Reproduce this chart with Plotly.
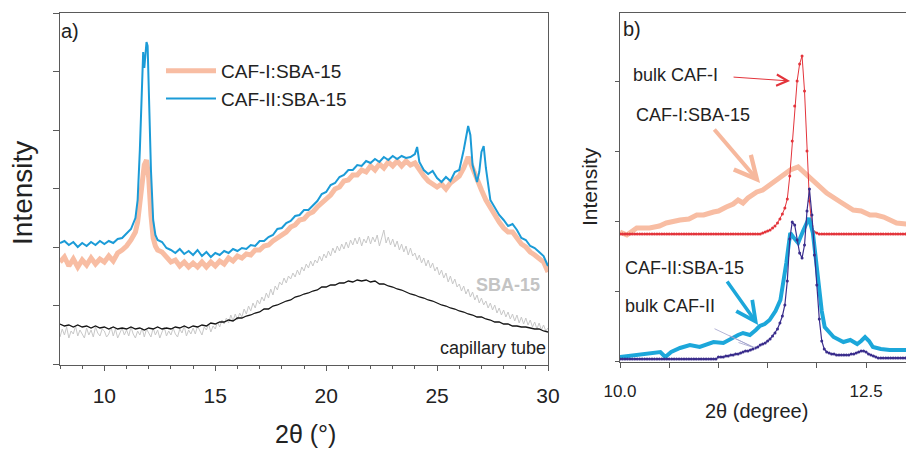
import numpy as np
import plotly.graph_objects as go

W, H = 906, 449

# ---------------- Panel a data (intensity, a.u.) ----------------
caf1_sba15_a = [(8.0,102),(8.2,107),(8.4,98),(8.6,105),(8.8,97),(9.0,104),(9.2,99),(9.4,106),(9.6,100),(9.8,105),
    (10.0,102),(10.2,108),(10.4,103),(10.6,111),(10.8,114),(11.0,118),(11.2,124),(11.4,132),(11.5,142),(11.6,159),
    (11.7,182),(11.8,199),(11.9,204),(12.0,186),(12.1,149),(12.2,126),(12.3,118),(12.4,114),(12.6,112),(12.8,106),
    (13.0,102),(13.2,104),(13.4,98),(13.6,102),(13.8,97),(14.0,101),(14.2,97),(14.4,102),(14.6,97),(14.8,102),
    (15.0,98),(15.2,103),(15.4,100),(15.6,106),(15.8,103),(16.0,108),(16.2,106),(16.4,110),(16.6,109),(16.8,114),
    (17.0,114),(17.2,118),(17.4,119),(17.6,123),(17.8,126),(18.0,130),(18.2,132),(18.4,137),(18.6,139),(18.8,144),
    (19.0,145),(19.2,150),(19.4,152),(19.6,157),(19.8,161),(20.0,166),(20.2,169),(20.4,175),(20.6,177),(20.8,183),
    (21.0,184),(21.2,189),(21.4,189),(21.6,194),(21.8,192),(22.0,198),(22.2,194),(22.4,200),(22.6,196),(22.8,202),
    (23.0,198),(23.2,203),(23.4,198),(23.6,203),(23.8,199),(24.0,201),(24.2,194),(24.4,188),(24.6,183),(24.8,180),
    (25.0,177),(25.2,180),(25.4,175),(25.6,181),(25.8,184),(26.0,188),(26.2,196),(26.4,207),(26.6,196),(26.8,184),
    (27.0,174),(27.2,164),(27.4,156),(27.6,149),(27.8,142),(28.0,136),(28.2,132),(28.4,132),(28.6,126),(28.8,120),
    (29.0,117),(29.2,112),(29.4,109),(29.6,105),(29.8,102),(30.0,92)]

caf2_sba15_a = [(8.0,121),(8.2,123),(8.4,119),(8.6,122),(8.8,117),(9.0,121),(9.2,118),(9.4,122),(9.6,119),(9.8,123),
    (10.0,120),(10.2,123),(10.4,121),(10.6,125),(10.8,126),(11.0,130),(11.2,135),(11.4,146),(11.5,164),(11.6,214),
    (11.7,289),(11.75,312),(11.8,296),(11.85,309),(11.9,322),(11.95,318),(12.0,274),(12.1,194),(12.2,144),(12.3,129),
    (12.4,124),(12.6,122),(12.8,116),(13.0,114),(13.2,111),(13.4,115),(13.6,110),(13.8,113),(14.0,109),(14.2,114),
    (14.4,108),(14.6,112),(14.8,107),(15.0,111),(15.2,109),(15.4,113),(15.6,111),(15.8,115),(16.0,113),(16.2,116),
    (16.4,115),(16.6,119),(16.8,118),(17.0,123),(17.2,123),(17.4,127),(17.6,129),(17.8,135),(18.0,136),(18.2,141),
    (18.4,143),(18.6,148),(18.8,149),(19.0,154),(19.2,154),(19.4,159),(19.6,163),(19.8,170),(20.0,172),(20.2,179),
    (20.4,181),(20.6,187),(20.8,189),(21.0,194),(21.2,194),(21.4,199),(21.6,198),(21.8,203),(22.0,201),(22.2,205),
    (22.4,202),(22.6,207),(22.8,204),(23.0,208),(23.2,205),(23.4,208),(23.6,206),(23.8,207),(24.0,210),(24.1,217),
    (24.2,202),(24.4,194),(24.6,190),(24.8,193),(25.0,186),(25.2,182),(25.4,187),(25.6,183),(25.8,192),(26.0,194),
    (26.2,214),(26.4,238),(26.5,229),(26.6,199),(26.8,182),(26.9,192),(27.0,212),(27.1,218),(27.2,196),(27.4,164),
    (27.6,157),(27.8,149),(28.0,144),(28.2,138),(28.4,140),(28.6,134),(28.8,126),(29.0,124),(29.2,118),(29.4,116),
    (29.6,112),(29.8,108),(30.0,98)]

two_theta_fine = np.round(np.linspace(8.0, 30.0, 221), 1)
sba15_a = [27,35,29,37,26,33,30,38,28,34,
           30,26,36,29,34,27,37,31,28,35,
           33,27,30,37,28,35,26,32,36,29,
           34,28,37,30,26,33,29,36,27,35,
           31,27,36,29,34,26,32,37,28,33,
           29,36,30,27,35,31,38,28,34,30,
           36,30,38,33,29,37,34,40,32,38,
           35,42,37,44,40,46,41,49,43,50,
           44,51,47,55,50,58,53,61,56,64,
           60,67,63,71,66,75,69,78,74,82,
           79,86,81,88,85,91,87,94,89,97,
           93,100,96,103,98,104,101,108,103,110,
           106,113,108,116,111,118,113,120,115,122,
           116,124,119,126,120,127,118,125,121,128,
           120,127,122,129,118,126,134,121,127,119,
           125,117,123,114,120,112,118,109,116,108,
           111,104,109,101,106,98,104,96,101,93,
           97,89,94,86,91,82,88,80,85,77,
           80,73,78,70,75,67,72,64,69,61,
           66,59,63,56,61,54,59,51,56,49,
           54,47,52,45,50,43,49,41,47,40,
           46,39,44,37,42,35,41,34,39,33,
           36]

two_theta_a = np.round(np.linspace(8.0, 30.0, 111), 1)
capillary_a = [40,38,39,37,39,37,38,36,38,36,
               37,35,37,35,36,35,37,35,36,34,
               36,35,37,35,36,35,37,36,38,36,
               38,37,39,38,41,40,42,42,44,43,
               46,46,48,49,51,52,55,55,58,59,
               61,63,64,67,68,70,71,73,74,77,
               77,79,79,81,81,83,82,84,83,84,
               82,83,80,80,78,77,75,74,72,70,
               69,67,66,64,63,61,59,58,56,55,
               53,52,50,49,47,47,45,44,42,42,
               40,40,38,38,37,37,36,35,35,33,
               32]
assert len(sba15_a) == 221 and len(capillary_a) == 111

# ---------------- Panel b data ----------------
two_theta_b = np.round(10.0 + 0.025 * np.arange(117), 3)
bulk_caf1_b = [127]*58 + [128,129,130,131,133,135,138,142,147,153,
                          162,185,220,255,280,297,305,270,210,160,
                          135,129,128] + [127]*36
bulk_caf2_b = [2]*40 + [4,4,4,5,5,6,6,7,7,8,
                        9,10,10,11,12,13,14,16,17,18,
                        20,22,25,28,32,38,45,56,80,122,
                        139,136,121,108,103,116,150,172,146,106,
                        76,42,20,12,9,8,7,7,6,6,
                        6,6,6,6,7,7,8,9,10,10,
                        9,7,6,5,4] + [3]*12
assert len(bulk_caf1_b) == 117 and len(bulk_caf2_b) == 117

caf1_sba15_b = [(10.0,129),(10.07,126),(10.17,133),(10.3,133),(10.4,135),(10.47,138),(10.61,141),(10.7,142),
    (10.78,146),(10.85,146),(10.95,149),(11.0,150),(11.08,154),(11.15,157),(11.2,161),(11.25,158),(11.3,163),
    (11.39,169),(11.45,171),(11.52,176),(11.63,184),(11.73,191),(11.81,194),(11.9,186),(12.0,178),(12.1,168),
    (12.24,159),(12.3,155),(12.37,151),(12.45,150),(12.54,146),(12.6,146),(12.68,144),(12.81,138),(12.91,137)]
caf2_sba15_b = [(10.0,4),(10.1,5),(10.2,7),(10.3,8),(10.41,9),(10.46,4),(10.52,9),(10.61,13),(10.71,16),
    (10.81,14),(10.9,17),(10.95,19),(11.05,18),(11.1,21),(11.15,24),(11.2,26),(11.25,28),(11.32,26),(11.38,31),
    (11.42,35),(11.47,37),(11.52,41),(11.58,50),(11.63,61),(11.69,98),(11.73,128),(11.76,124),(11.81,118),
    (11.86,130),(11.92,143),(11.96,128),(12.01,81),(12.05,50),(12.08,34),(12.12,30),(12.17,24),(12.21,22),
    (12.27,19),(12.34,21),(12.41,17),(12.45,20),(12.49,24),(12.53,20),(12.57,14),(12.65,12),(12.74,11),(12.91,11)]

FONT = "Liberation Sans, Arial, sans-serif"
PINK = "#f8bda3"
BLUE = "#1b9bd7"
BLUE_B = "#1ca7da"
RED = "#e3343b"
PURPLE = "#3a2d8c"
AX = "#5a5a5a"

def unzip(pairs):
    xs, ys = zip(*pairs)
    return list(xs), list(ys)

def px(x):
    return x / W

def py(y):
    return 1 - y / H

fig = go.Figure()

# Panel a traces
fig.add_trace(go.Scatter(x=two_theta_fine, y=sba15_a, mode="lines", xaxis="x", yaxis="y",
                         line=dict(color="#c8c8c8", width=1), showlegend=False))
fig.add_trace(go.Scatter(x=two_theta_a, y=capillary_a, mode="lines", xaxis="x", yaxis="y",
                         line=dict(color="#151515", width=1.3), showlegend=False))
x, y = unzip(caf1_sba15_a)
fig.add_trace(go.Scatter(x=x, y=y, mode="lines", xaxis="x", yaxis="y", name="CAF-I:SBA-15",
                         line=dict(color=PINK, width=5)))
x, y = unzip(caf2_sba15_a)
fig.add_trace(go.Scatter(x=x, y=y, mode="lines", xaxis="x", yaxis="y", name="CAF-II:SBA-15",
                         line=dict(color=BLUE, width=2)))

# Panel b traces
x, y = unzip(caf1_sba15_b)
fig.add_trace(go.Scatter(x=x, y=y, mode="lines", xaxis="x2", yaxis="y2", showlegend=False,
                         line=dict(color=PINK, width=5)))
fig.add_trace(go.Scatter(x=two_theta_b, y=bulk_caf1_b, mode="lines+markers", xaxis="x2", yaxis="y2",
                         showlegend=False, line=dict(color=RED, width=1),
                         marker=dict(color=RED, size=3)))
x, y = unzip(caf2_sba15_b)
fig.add_trace(go.Scatter(x=x, y=y, mode="lines", xaxis="x2", yaxis="y2", showlegend=False,
                         line=dict(color=BLUE_B, width=4)))
fig.add_trace(go.Scatter(x=two_theta_b, y=bulk_caf2_b, mode="lines+markers", xaxis="x2", yaxis="y2",
                         showlegend=False, line=dict(color=PURPLE, width=1.2),
                         marker=dict(color=PURPLE, size=3)))

common_axis = dict(showline=True, linecolor=AX, linewidth=1, showgrid=False, zeroline=False,
                   tickcolor=AX, ticks="outside", automargin=False)

fig.update_layout(
    width=W, height=H,
    margin=dict(l=0, r=0, t=0, b=0, pad=0),
    paper_bgcolor="white", plot_bgcolor="white",
    font=dict(family=FONT, color="#222"),
    xaxis=dict(common_axis, domain=[px(60), px(548)], range=[8, 30], mirror=True, anchor="y",
               tick0=10, dtick=5, ticklen=5, tickfont=dict(size=21, color="#222"),
               ticklabelstandoff=7,
               minor=dict(dtick=1, ticks="outside", ticklen=3, tickcolor=AX)),
    yaxis=dict(common_axis, domain=[py(365), py(13)], range=[-1, 351], mirror=True, anchor="x",
               tick0=0, dtick=58.5, ticklen=6, showticklabels=False),
    xaxis2=dict(common_axis, domain=[px(620), 1.0], range=[10, 12.906], mirror=True, anchor="y2",
                tick0=10, dtick=2.5, tickformat=".1f", ticklen=5, tickfont=dict(size=17, color="#222"),
                ticklabelstandoff=9,
                minor=dict(dtick=0.5, ticks="outside", ticklen=5, tickcolor=AX)),
    yaxis2=dict(common_axis, domain=[py(361.5), py(13)], range=[-0.5, 348], mirror=False, anchor="x2",
                tick0=0, dtick=70, ticklen=4, showticklabels=False),
    legend=dict(x=px(161), y=py(52), xanchor="left", yanchor="top", bgcolor="rgba(0,0,0,0)",
                font=dict(size=19, color="#222"), tracegroupgap=0, itemwidth=50),
)

def label(text, x, y, size, xanchor="left", color="#222", bold=False, angle=0):
    fig.add_annotation(text=("<b>%s</b>" % text) if bold else text, x=px(x), y=py(y),
                       xref="paper", yref="paper", xanchor=xanchor, yanchor="middle",
                       showarrow=False, textangle=angle, borderpad=0,
                       font=dict(size=size, color=color, family=FONT))

# Panel a texts
label("a)", 60, 31, 20)
label("Intensity", 22, 193, 28, xanchor="center", angle=-90)
label("2θ (°)", 305, 434, 25, xanchor="center")
label("SBA-15", 541, 285, 18, xanchor="right", color="#c4c4c4", bold=True)
label("capillary tube", 547, 348, 18, xanchor="right")

# Panel b texts
label("b)", 622, 29, 20)
label("Intensity", 590, 187, 21, xanchor="center", angle=-90)
label("2θ (degree)", 756, 411, 20, xanchor="center")
label("bulk CAF-I", 632, 75, 18)
label("CAF-I:SBA-15", 635, 115, 18)
label("CAF-II:SBA-15", 624, 268, 18)
label("bulk CAF-II", 624, 306, 18)

def arrow(xd, yd, ax, ay, color, width, head=5, size=1.0):
    fig.add_annotation(x=xd, y=yd, xref="x2", yref="y2", ax=ax, ay=ay, axref="pixel", ayref="pixel",
                       text="", showarrow=True, arrowhead=head, arrowsize=size, arrowwidth=width,
                       arrowcolor=color, standoff=0, startstandoff=0)

arrow(11.728, 280, -58, -4, RED, 1, head=5, size=2.2)
arrow(11.423, 178, -47, -55, "#f6b89d", 4, head=5, size=1.1)
arrow(11.403, 36, -32, -45, BLUE_B, 3.5, head=5, size=1.1)
for ax, ay in [(-42, -20), (-27, -13), (-18, -6)]:
    arrow(11.372, 13, ax, ay, "#a2a2cc", 0.8, head=0)

fig.write_html("out.html", config={"displayModeBar": False},
               post_script="document.body.style.margin='0px';")
